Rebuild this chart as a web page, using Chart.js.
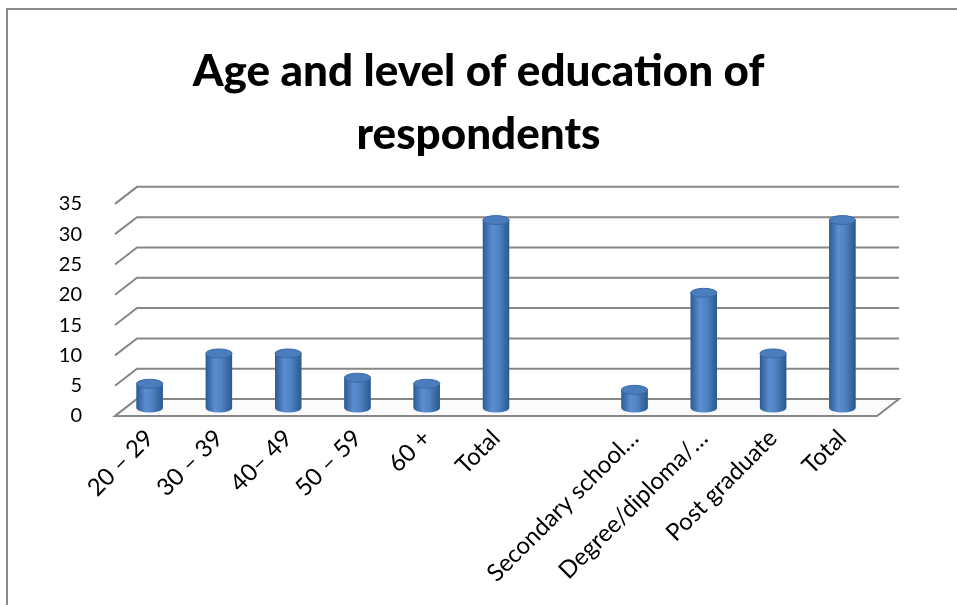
<!DOCTYPE html>
<html lang="en">
<head>
<meta charset="UTF-8">
<title>Age and level of education of respondents</title>
<script src="https://cdn.jsdelivr.net/npm/chart.js"></script>
<style>
  html, body { margin: 0; padding: 0; background: #fff; }
  .wrap { position: relative; width: 957px; height: 605px; overflow: hidden; }
  .edge { position: absolute; left: 6px; top: 8px; right: -10px; bottom: -10px;
          border-left: 2px solid #8c8c8c; border-top: 2px solid #8c8c8c; }
  canvas { position: absolute; left: 0; top: 0; }
</style>
</head>
<body>
<div class="wrap">
  <div class="edge"></div>
  <canvas id="chart" width="957" height="605"></canvas>
</div>
<script>
// categories and values
const categories = ['20 \u2013 29', '30 \u2013 39', '40\u2013 49', '50 \u2013 59', '60 +', 'Total', '',
                    'Secondary school\u2026', 'Degree/diploma/\u2026', 'Post graduate', 'Total'];
const respondents = [4, 9, 9, 5, 4, 31, null, 3, 19, 9, 31];
const yTicks = [0, 5, 10, 15, 20, 25, 30, 35];

const FONT = 'Lato, "Open Sans", sans-serif';
const DEPTH_X = 22, DEPTH_Y = 17;   // back wall offset
const BAR_SHIFT = 8;                 // bars stand halfway into the floor

// fake 3d: back wall grid, floor, cylinders
const wall3d = {
  id: 'wall3d',
  beforeDatasetsDraw(chart) {
    const { ctx, chartArea: a, scales: { y } } = chart;
    ctx.save();
    ctx.strokeStyle = '#878787';
    ctx.lineWidth = 2;
    yTicks.forEach(v => {
      const py = y.getPixelForValue(v);
      ctx.beginPath();
      ctx.moveTo(a.left, py);
      ctx.lineTo(a.left + DEPTH_X, py - DEPTH_Y);
      ctx.lineTo(a.right + DEPTH_X, py - DEPTH_Y);
      ctx.stroke();
    });
    // floor
    const p0 = y.getPixelForValue(0);
    ctx.fillStyle = '#fbfbfb';
    ctx.beginPath();
    ctx.moveTo(a.left, p0);
    ctx.lineTo(a.right, p0);
    ctx.lineTo(a.right + DEPTH_X, p0 - DEPTH_Y);
    ctx.lineTo(a.left + DEPTH_X, p0 - DEPTH_Y);
    ctx.closePath();
    ctx.fill();
    ctx.stroke();
    ctx.restore();

    ctx.save();
    ctx.translate(0, -BAR_SHIFT);
  },
  afterDatasetsDraw(chart) {
    const { ctx } = chart;
    chart.getDatasetMeta(0).data.forEach((bar, i) => {
      if (respondents[i] == null) return;
      const { x, y, base, width } = bar.getProps(['x', 'y', 'base', 'width'], true);
      const l = x - width / 2, r = x + width / 2, ry = 4.5;
      const g = ctx.createLinearGradient(l, 0, r, 0);
      g.addColorStop(0, '#2d5b94');
      g.addColorStop(0.35, '#5a8ed0');
      g.addColorStop(0.6, '#4f83c4');
      g.addColorStop(1, '#2b5890');
      ctx.fillStyle = g;
      ctx.fillRect(l, y, width, base - y);
      ctx.beginPath();
      ctx.ellipse(x, base, width / 2, ry, 0, 0, Math.PI);
      ctx.fill();
      ctx.beginPath();
      ctx.ellipse(x, y, width / 2, ry, 0, 0, Math.PI * 2);
      ctx.fillStyle = '#4a7dbd';
      ctx.fill();
      ctx.strokeStyle = '#3a6aa6';
      ctx.lineWidth = 1;
      ctx.stroke();
    });
    ctx.restore();
  }
};

new Chart(document.getElementById('chart'), {
  type: 'bar',
  data: {
    labels: categories,
    datasets: [{
      data: respondents,
      backgroundColor: '#4a7ebf',
      borderWidth: 0,
      categoryPercentage: 1,
      barPercentage: 0.38
    }]
  },
  options: {
    responsive: false,
    animation: false,
    layout: { padding: 0 },
    plugins: {
      legend: { display: false },
      tooltip: { enabled: false },
      title: {
        display: true,
        text: ['Age and level of education of', 'respondents'],
        color: '#000',
        font: { family: FONT, size: 44, weight: 900, lineHeight: 1.43 },
        padding: { top: 40, bottom: 38 }
      }
    },
    scales: {
      x: {
        grid: { display: false },
        border: { display: false },
        ticks: {
          color: '#000',
          font: { family: FONT, size: 24 },
          minRotation: 45, maxRotation: 45,
          autoSkip: false,
          padding: 0
        },
        afterFit(scale) {
          scale.height = 189;
          scale.paddingRight = 80;   // room for the back wall on the right
        }
      },
      y: {
        min: 0, max: 35,
        grid: { display: false },
        border: { display: false },
        ticks: {
          stepSize: 5,
          color: '#000',
          font: { family: FONT, size: 20 },
          padding: 25
        },
        afterFit(scale) { scale.width = 115; }
      }
    }
  },
  plugins: [wall3d]
});
</script>
</body>
</html>
